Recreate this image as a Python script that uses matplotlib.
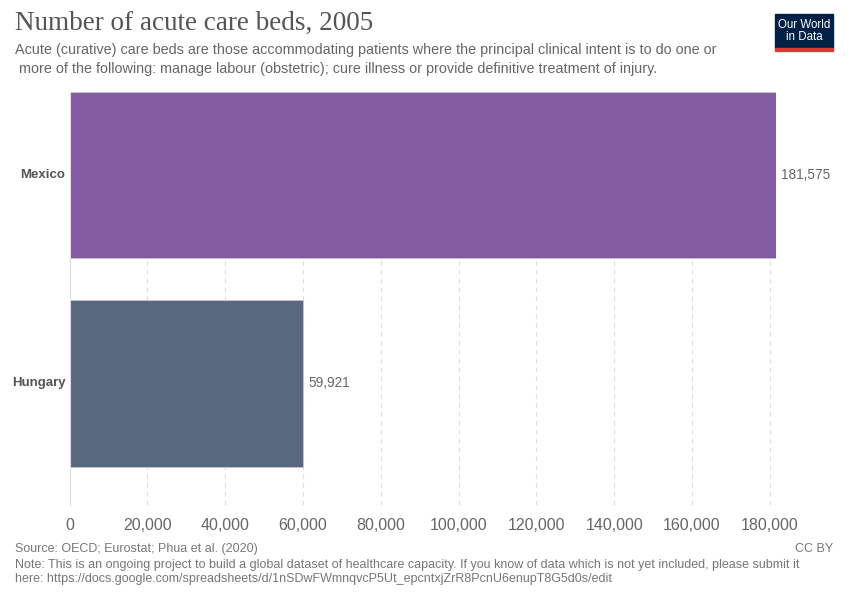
import matplotlib
matplotlib.use('Agg')
import matplotlib.pyplot as plt
from matplotlib.patches import Rectangle

# data
countries = ['Mexico', 'Hungary']
beds = [181575, 59921]
bar_colors = ['#825ba0', '#58697e']
xticks = [0, 20000, 40000, 60000, 80000, 100000, 120000, 140000, 160000, 180000]

plt.rcParams['font.family'] = ['Liberation Sans', 'DejaVu Sans']

fig = plt.figure(figsize=(8.5, 6), dpi=100)
ax = fig.add_axes([0.0818, 0.1583, 0.831, 0.6884])

ypos = list(range(len(countries)))
ax.barh(ypos, beds, height=0.8, color=bar_colors, edgecolor='#c8c0d8', linewidth=0.6)
ax.set_xlim(0, beds[0])
ax.set_ylim(1.585, -0.4)

ax.set_xticks(xticks)
ax.set_xticklabels(['{:,}'.format(t) for t in xticks], color='#666666', fontsize=11.5)
ax.tick_params(axis='x', length=0, pad=9)
ax.set_yticks([])
ax.grid(axis='x', linestyle=(0, (4, 4)), color='#dddddd', linewidth=0.8)
ax.set_axisbelow(True)
for s in ['top', 'right', 'bottom']:
    ax.spines[s].set_visible(False)
ax.spines['left'].set_color('#dddddd')

for y, name, v in zip(ypos, countries, beds):
    ax.text(-0.006, y, name, transform=ax.get_yaxis_transform(), ha='right', va='center',
            fontsize=9.5, fontweight='bold', color='#555555')
    ax.annotate('{:,}'.format(v), (v, y), xytext=(4, 0), textcoords='offset points',
                ha='left', va='center', fontsize=9.8, color='#666666', annotation_clip=False)

# header
fig.text(15 / 850, 1 - 23 / 600, 'Number of acute care beds, 2005', family='Liberation Serif',
         fontsize=19.5, color='#555555', va='center', ha='left')
fig.text(15 / 850, 1 - 50 / 600,
         'Acute (curative) care beds are those accommodating patients where the principal clinical intent is to do one or',
         fontsize=10.4, color='#666666', va='center', ha='left')
fig.text(15 / 850, 1 - 69 / 600,
         ' more of the following: manage labour (obstetric); cure illness or provide definitive treatment of injury.',
         fontsize=10.4, color='#666666', va='center', ha='left')

# logo
fig.patches.append(Rectangle((775 / 850, 1 - 48 / 600), 58 / 850, 34 / 600,
                             transform=fig.transFigure, color='#002147'))
fig.patches.append(Rectangle((775 / 850, 1 - 51 / 600), 58 / 850, 3 / 600,
                             transform=fig.transFigure, color='#dc3a2e'))
fig.text(804 / 850, 1 - 31 / 600, 'Our World\nin Data', fontsize=8.3, color='white',
         ha='center', va='center', linespacing=1.05)

# footer
fig.text(15 / 850, 1 - 549 / 600, 'Source: OECD; Eurostat; Phua et al. (2020)',
         fontsize=9, color='#777777', va='center', ha='left')
fig.text(833 / 850, 1 - 549 / 600, 'CC BY', fontsize=9, color='#777777', va='center', ha='right')
fig.text(15 / 850, 1 - 565 / 600,
         'Note: This is an ongoing project to build a global dataset of healthcare capacity. If you know of data which is not yet included, please submit it',
         fontsize=9, color='#777777', va='center', ha='left')
fig.text(15 / 850, 1 - 579 / 600,
         'here: https://docs.google.com/spreadsheets/d/1nSDwFWmnqvcP5Ut_epcntxjZrR8PcnU6enupT8G5d0s/edit',
         fontsize=9, color='#777777', va='center', ha='left')

fig.savefig('out.png', dpi=100)
